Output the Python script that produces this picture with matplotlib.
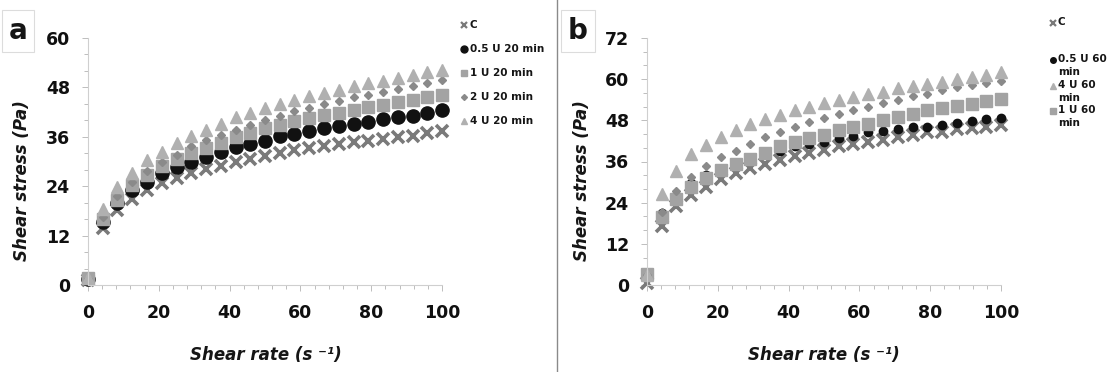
import matplotlib
matplotlib.use("Agg")
import matplotlib.pyplot as plt
from matplotlib.lines import Line2D
from matplotlib.ticker import MultipleLocator

# ---------------- data ----------------
shear_rate = [0, 4.2, 8.3, 12.5, 16.7, 20.8, 25, 29.2, 33.3, 37.5, 41.7, 45.8, 50,
              54.2, 58.3, 62.5, 66.7, 70.8, 75, 79.2, 83.3, 87.5, 91.7, 95.8, 100]

# panel a (20 min)
a_C    = [1.2, 13.8, 18.2, 20.9, 23.1, 24.7, 26.1, 27.3, 28.2, 29.0, 29.8, 30.7, 31.4,
          32.0, 32.7, 33.3, 33.7, 34.2, 34.7, 35.1, 35.5, 35.9, 36.3, 36.9, 37.5]
a_05U  = [1.5, 15.4, 20.0, 23.1, 25.1, 27.3, 28.6, 30.0, 31.2, 32.3, 33.5, 34.3, 35.1,
          36.1, 36.7, 37.5, 38.1, 38.7, 39.2, 39.7, 40.3, 40.8, 41.1, 41.8, 42.6]
a_1U   = [1.6, 16.0, 20.7, 24.3, 26.8, 28.8, 30.6, 32.0, 33.4, 34.6, 35.9, 36.9, 38.1,
          38.9, 39.9, 40.6, 41.2, 41.9, 42.6, 43.2, 43.8, 44.4, 45.0, 45.6, 46.2]
a_2U   = [1.5, 16.6, 21.7, 25.1, 27.7, 30.0, 31.6, 33.7, 35.3, 36.5, 37.7, 38.9, 40.1,
          41.1, 42.2, 43.0, 44.0, 44.8, 45.6, 46.2, 47.0, 47.7, 48.4, 49.1, 49.9]
a_4U   = [1.6, 18.4, 23.9, 27.3, 30.3, 32.4, 34.5, 36.3, 37.7, 39.2, 40.7, 41.8, 43.0,
          44.0, 45.0, 45.8, 46.6, 47.4, 48.3, 49.1, 49.6, 50.3, 51.1, 51.7, 52.3]

# panel b (60 min)
b_C    = [0.5, 17.3, 22.9, 26.1, 28.7, 30.8, 32.6, 34.2, 35.3, 36.5, 37.5, 38.6, 39.4,
          40.4, 41.1, 41.8, 42.3, 43.1, 43.6, 44.5, 44.7, 45.4, 45.9, 46.2, 46.7]
b_05U  = [2.5, 20.9, 25.8, 29.7, 32.1, 33.6, 35.5, 37.0, 38.4, 39.1, 40.6, 41.1, 41.8,
          42.8, 43.5, 44.5, 44.9, 45.5, 46.0, 46.2, 46.7, 47.2, 47.7, 48.3, 48.8]
b_1U   = [3.3, 19.9, 25.0, 28.5, 31.1, 33.4, 35.2, 36.7, 38.4, 40.4, 41.6, 42.8, 43.8,
          45.2, 46.2, 46.9, 48.2, 48.9, 49.8, 50.9, 51.6, 52.2, 52.8, 53.5, 54.2]
b_2U   = [3.0, 21.4, 27.4, 31.6, 34.7, 37.3, 39.1, 41.1, 43.1, 44.6, 46.2, 47.4, 48.6,
          49.8, 50.9, 51.8, 53.0, 53.8, 55.0, 55.7, 56.7, 57.6, 58.4, 59.0, 59.6]
b_4U   = [3.0, 26.6, 33.3, 38.1, 40.9, 43.1, 45.2, 46.9, 48.3, 49.6, 51.1, 52.0, 53.0,
          54.0, 54.8, 55.7, 56.4, 57.4, 58.1, 58.7, 59.3, 60.0, 60.6, 61.3, 62.1]

x_ticks = [0, 20, 40, 60, 80, 100]
a_y_ticks = [0, 12, 24, 36, 48, 60]
b_y_ticks = [0, 12, 24, 36, 48, 60, 72]

labels_a = ["C", "0.5 U 20 min", "1 U 20 min", "2 U 20 min", "4 U 20 min"]
labels_b = ["C", "0.5 U 60\nmin", "4 U 60\nmin", "1 U 60\nmin"]

# ---------------- styles ----------------
FONT = "DejaVu Sans"
col_x = "#7a7a7a"
col_o = "#111111"
col_s = "#a3a3a3"
col_d = "#8a8a8a"
col_t = "#b0b0b0"

fig = plt.figure(figsize=(11.10, 3.72), dpi=100)
W, H = 1110, 372


def fx(px):
    return px / W


def fy(py):
    return 1 - py / H


def style_axis(ax, ymax, yticks):
    ax.set_xlim(0, 100)
    ax.set_ylim(0, ymax)
    ax.set_xticks(x_ticks)
    ax.set_yticks(yticks)
    ax.xaxis.set_minor_locator(MultipleLocator(4))
    ax.yaxis.set_minor_locator(MultipleLocator(4))
    for s in ["top", "right"]:
        ax.spines[s].set_visible(False)
    for s in ["left", "bottom"]:
        ax.spines[s].set_color("#cfcfcf")
        ax.spines[s].set_linewidth(0.8)
    ax.tick_params(which="both", color="#bdbdbd", width=0.7, direction="out")
    ax.tick_params(which="major", length=4)
    ax.tick_params(which="minor", length=3)
    ax.tick_params(axis="x", which="major", pad=10)
    ax.tick_params(axis="y", which="major", pad=9)
    for lab in ax.get_xticklabels() + ax.get_yticklabels():
        lab.set_fontfamily(FONT)
        lab.set_fontweight("heavy")
        lab.set_fontsize(12.5)
        lab.set_color("#101010")
    ax.patch.set_alpha(0)


# ---------------- panel a ----------------
axa = fig.add_axes([fx(88), fy(285), fx(442 - 88), fy(38) - fy(285)])
axa.plot(shear_rate, a_C, ls="none", marker="x", ms=9, mew=2.6, color=col_x, clip_on=False)
axa.plot(shear_rate, a_05U, ls="none", marker="o", ms=9.5, color=col_o, mec=col_o, clip_on=False)
axa.plot(shear_rate, a_1U, ls="none", marker="s", ms=8.5, color=col_s, mec=col_s, clip_on=False)
axa.plot(shear_rate, a_2U, ls="none", marker="D", ms=4.5, color=col_d, mec=col_d, clip_on=False)
axa.plot(shear_rate, a_4U, ls="none", marker="^", ms=8, color=col_t, mec=col_t, clip_on=False)
style_axis(axa, 60, a_y_ticks)

# ---------------- panel b ----------------
axb = fig.add_axes([fx(647), fy(285), fx(1001 - 647), fy(38) - fy(285)])
axb.plot(shear_rate, b_C, ls="none", marker="x", ms=9, mew=2.6, color=col_x, clip_on=False)
axb.plot(shear_rate, b_05U, ls="none", marker="o", ms=6, color=col_o, mec=col_o, clip_on=False)
axb.plot(shear_rate, b_1U, ls="none", marker="s", ms=8.5, color=col_s, mec=col_s, clip_on=False)
axb.plot(shear_rate, b_2U, ls="none", marker="D", ms=4.5, color=col_d, mec=col_d, clip_on=False)
axb.plot(shear_rate, b_4U, ls="none", marker="^", ms=8.5, color=col_t, mec=col_t, clip_on=False)
style_axis(axb, 72, b_y_ticks)

# ---------------- axis titles ----------------
lab_kw = dict(fontfamily=FONT, fontweight="bold", fontstyle="italic", fontsize=12, color="#151515")
fig.text(fx(22), fy(181), "Shear stress (Pa)", rotation=90, ha="center", va="center", **lab_kw)
fig.text(fx(582), fy(181), "Shear stress (Pa)", rotation=90, ha="center", va="center", **lab_kw)
fig.text(fx(266), fy(355), "Shear rate (s \u207b\u00b9)", ha="center", va="center", **lab_kw)
fig.text(fx(824), fy(355), "Shear rate (s \u207b\u00b9)", ha="center", va="center", **lab_kw)

# ---------------- panel letters ----------------
box = dict(boxstyle="square,pad=0.25", fc="white", ec="#dcdcdc", lw=0.8)
fig.text(fx(18), fy(31), "a", ha="center", va="center", fontfamily=FONT, fontweight="heavy",
         fontsize=20, color="#151515", bbox=box)
fig.text(fx(578), fy(31), "b", ha="center", va="center", fontfamily=FONT, fontweight="heavy",
         fontsize=20, color="#151515", bbox=box)

# ---------------- divider ----------------
fig.add_artist(Line2D([fx(557), fx(557)], [0, 1], transform=fig.transFigure, color="#8a8a8a", lw=1.0))

# ---------------- legends (manual) ----------------
leg_font = dict(fontfamily=FONT, fontweight="bold", fontsize=7.5, color="#151515",
                ha="left", va="center")
leg_styles_a = [
    dict(marker="x", ms=5, mew=1.6, color=col_x),
    dict(marker="o", ms=5, color=col_o),
    dict(marker="s", ms=5, color=col_s),
    dict(marker="D", ms=3, color=col_d),
    dict(marker="^", ms=5, color=col_t),
]
leg_y_a = [25, 49, 73, 97, 121]
for st, lab, yy in zip(leg_styles_a, labels_a, leg_y_a):
    fig.add_artist(Line2D([fx(464)], [fy(yy)], transform=fig.transFigure, ls="none", **st))
    fig.text(fx(470), fy(yy), lab, **leg_font)

leg_styles_b = [
    dict(marker="x", ms=5, mew=1.6, color=col_x),
    dict(marker="o", ms=4, color=col_o),
    dict(marker="^", ms=5, color=col_t),
    dict(marker="s", ms=5, color=col_s),
]
leg_y_b = [23, 60, 86, 111]
for st, lab, yy in zip(leg_styles_b, labels_b, leg_y_b):
    fig.add_artist(Line2D([fx(1053)], [fy(yy)], transform=fig.transFigure, ls="none", **st))
    fig.text(fx(1058), fy(yy - 6), lab, linespacing=1.35, **dict(leg_font, va="top"))

fig.savefig("out.png", dpi=100, facecolor="white")
